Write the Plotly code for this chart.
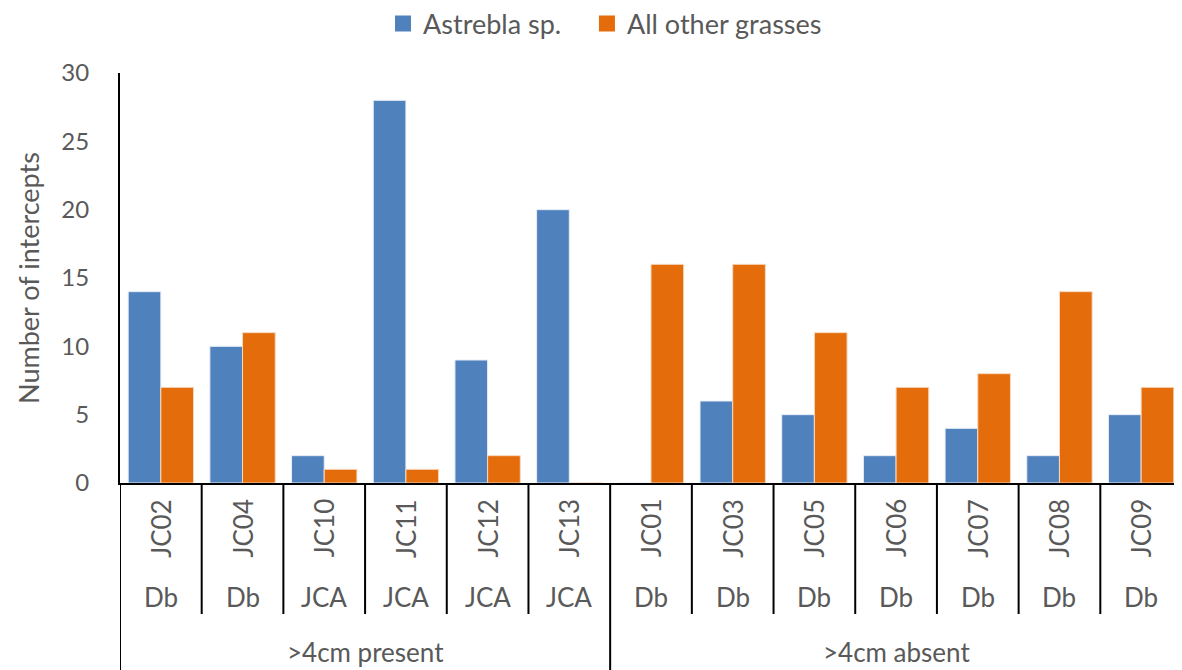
import plotly.graph_objects as go

# data
sites = ["JC02", "JC04", "JC10", "JC11", "JC12", "JC13",
         "JC01", "JC03", "JC05", "JC06", "JC07", "JC08", "JC09"]
site_types = ["Db", "Db", "JCA", "JCA", "JCA", "JCA",
              "Db", "Db", "Db", "Db", "Db", "Db", "Db"]
groups = [">4cm present", ">4cm absent"]
group_sizes = [6, 7]
astrebla = [14, 10, 2, 28, 9, 20, 0, 6, 5, 2, 4, 2, 5]
other_grasses = [7, 11, 1, 1, 2, 0, 16, 16, 11, 7, 8, 14, 7]

BLUE = "#4F81BD"
ORANGE = "#E46C0A"
GREY = "#595959"
FONT = "Lato, 'Open Sans', sans-serif"

W, H = 1182, 670
OFF = 8  # page body margin shifts the figure by this much
ML, MR, MT = 120 - OFF, OFF, 73 - OFF
BASE = 483 - OFF            # baseline row inside the figure
MB = H - BASE
plot_h = BASE - MT


def py(pix):
    # screen pixel row -> paper y
    return (BASE - (pix - OFF)) / plot_h


x = list(range(len(sites)))

fig = go.Figure()
fig.add_trace(go.Bar(x=x, y=astrebla, name="Astrebla sp.", showlegend=False,
                     marker=dict(color=BLUE, line=dict(color="#E8EEF7", width=1))))
fig.add_trace(go.Bar(x=x, y=other_grasses, name="All other grasses", showlegend=False,
                     marker=dict(color=ORANGE, line=dict(color="#F7D9C0", width=1))))
# legend entries with larger square swatches, like the reference
# (non-breaking spaces widen the gap between the two entries)
for name, col in [("Astrebla sp.\u00a0\u00a0\u00a0", BLUE), ("All other grasses", ORANGE)]:
    fig.add_trace(go.Scatter(x=[None], y=[None], mode="markers", name=name,
                             marker=dict(symbol="square", size=17, color=col)))

annotations = []
shapes = []
lab_font = dict(size=26, color=GREY, family=FONT)

# level 1 (site) and level 2 (type) labels
for i, (s, t) in enumerate(zip(sites, site_types)):
    annotations.append(dict(x=i, y=py(528), xref="x", yref="paper", text=s,
                            textangle=-90, showarrow=False,
                            xanchor="center", yanchor="middle", font=lab_font))
    annotations.append(dict(x=i, y=py(597), xref="x", yref="paper", text=t,
                            showarrow=False, xanchor="center", yanchor="middle",
                            font=lab_font))

# level 3 (group) labels and dividers
start = 0
bounds = [-0.5]
for g, n in zip(groups, group_sizes):
    annotations.append(dict(x=start + (n - 1) / 2, y=py(652), xref="x", yref="paper",
                            text=g, showarrow=False, xanchor="center",
                            yanchor="middle", font=lab_font))
    start += n
    bounds.append(start - 0.5)

for i in range(1, len(sites)):
    b = i - 0.5
    bottom = py(672) if b in bounds else py(614)
    shapes.append(dict(type="line", xref="x", yref="paper", x0=b, x1=b,
                       y0=0, y1=bottom, line=dict(color="black", width=2)))
# left axis line running down through the label rows
shapes.append(dict(type="line", xref="x", yref="paper", x0=-0.5, x1=-0.5,
                   y0=0, y1=py(672), line=dict(color="black", width=2)))

fig.update_layout(
    width=W, height=H,
    margin=dict(l=ML, r=MR, t=MT, b=MB, autoexpand=False),
    plot_bgcolor="white", paper_bgcolor="white",
    barmode="group", bargap=0.2, bargroupgap=0,
    font=dict(family=FONT, color=GREY, size=26),
    legend=dict(orientation="h", xref="container", yref="container",
                x=597 / W, y=1 - 16 / H, xanchor="center", yanchor="middle",
                font=dict(size=27, color=GREY, family=FONT),
                itemwidth=30, tracegroupgap=0),
    annotations=annotations,
    shapes=shapes,
    showlegend=True,
)
fig.update_xaxes(range=[-0.5, len(sites) - 0.5], showticklabels=False,
                 showline=True, linecolor="black", linewidth=2,
                 showgrid=False, zeroline=False, ticks="", automargin=False)
fig.update_yaxes(range=[0, 30], dtick=5, showgrid=False, zeroline=False,
                 showline=True, linecolor="black", linewidth=2,
                 ticks="", ticklabelstandoff=24, automargin=False,
                 tickfont=dict(size=24, color=GREY, family=FONT),
                 title=dict(text="Number of intercepts", standoff=14,
                            font=dict(size=27, color=GREY, family=FONT)))

fig.write_html("out.html")
